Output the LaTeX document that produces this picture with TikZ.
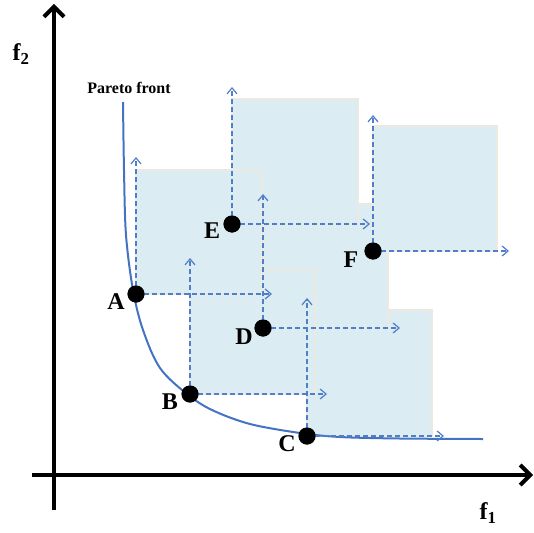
\documentclass[tikz,border=0pt]{standalone}
\usepackage{fontspec}
\setmainfont{Liberation Serif}
\usetikzlibrary{arrows.meta}
\definecolor{boxfill}{RGB}{219,236,242}
\definecolor{boxedge}{RGB}{236,234,224}
\definecolor{frontblue}{RGB}{68,114,196}
\definecolor{dasharrow}{RGB}{80,126,200}
\tikzset{
  dombox/.style={fill=boxfill,draw=boxedge,line width=1.8pt},
  ptdot/.style={circle,fill=black,inner sep=0pt,minimum size=17pt},
  ptlbl/.style={inner sep=0pt,font=\bfseries\fontsize{24}{24}\selectfont},
  darr/.style={dasharrow,line width=1.2pt,dash pattern=on 5pt off 3pt,-{Straight Barb[length=6pt,width=10pt,line width=1.2pt]}},
  axis/.style={black,line width=4pt,-{Straight Barb[length=10pt,width=20pt,line width=4pt]}},
}
\begin{document}
\begin{tikzpicture}[x=1pt,y=-1pt]
\useasboundingbox (0,0) rectangle (534,532);
% points
\coordinate (Ap) at (136,294);
\coordinate (Bp) at (190,394);
\coordinate (Cp) at (307,436);
\coordinate (Dp) at (263,328);
\coordinate (Ep) at (232,224);
\coordinate (Fp) at (373,251);
% dominated boxes
\draw[dombox] (Cp) rectangle (432,310);
\draw[dombox] (Dp) rectangle (388,204);
\draw[dombox] (Bp) rectangle (315,270);
\draw[dombox] (Ep) rectangle (358,99);
\draw[dombox] (Ap) rectangle (262,170);
\draw[dombox] (Fp) rectangle (497,126);
% axes
\coordinate (yb) at (54,510);
\coordinate (yt) at (54,4);
\coordinate (xl) at (32,475);
\coordinate (xr) at (533,475);
\draw[axis] (yb) -- (yt);
\draw[axis] (xl) -- (xr);
\node[font=\bfseries\fontsize{24}{24}\selectfont,inner sep=0pt] (f2) at (21,54) {f\textsubscript{2}};
\node[font=\bfseries\fontsize{24}{24}\selectfont,inner sep=0pt] (f1) at (488,513) {f\textsubscript{1}};
% Pareto front
\draw[frontblue,line width=2pt] plot[smooth,tension=0.55] coordinates {(123,102) (124,170) (126,235) (133,290) (143,330) (160,368) (187,394) (212,410) (250,424) (300,433) (340,437) (400,438.5) (483,439)};
\node[font=\bfseries\fontsize{16}{16}\selectfont,inner sep=0pt] (pf) at (129,88) {Pareto front};
% nodes
\node[ptdot] (A) at (Ap) {};
\node[ptdot] (B) at (Bp) {};
\node[ptdot] (C) at (Cp) {};
\node[ptdot] (D) at (Dp) {};
\node[ptdot] (E) at (Ep) {};
\node[ptdot] (F) at (Fp) {};
% arrow ends
\coordinate (Au) at (136,157); \coordinate (Ar) at (272,294);
\coordinate (Bu) at (190,258); \coordinate (Br) at (327,394);
\coordinate (Cu) at (307,298); \coordinate (Cr) at (444,436);
\coordinate (Du) at (263,194); \coordinate (Dr) at (400,328);
\coordinate (Eu) at (232,87);  \coordinate (Er) at (370,224);
\coordinate (Fu) at (373,115); \coordinate (Fr) at (509,251);
\foreach \p in {A,B,C,D,E,F}{
  \draw[darr] (\p.center) -- (\p u);
  \draw[darr] (\p.center) -- (\p r);
}
% redraw dots over arrows
\foreach \p in {A,B,C,D,E,F}{
  \fill (\p.center) circle (8.5pt);
}
% labels
\node[ptlbl] (lA) at (116,302) {A};
\node[ptlbl] (lB) at (170,402) {B};
\node[ptlbl] (lC) at (287,444) {C};
\node[ptlbl] (lD) at (244,337) {D};
\node[ptlbl] (lE) at (212,231) {E};
\node[ptlbl] (lF) at (351,260) {F};
\end{tikzpicture}
\end{document}
